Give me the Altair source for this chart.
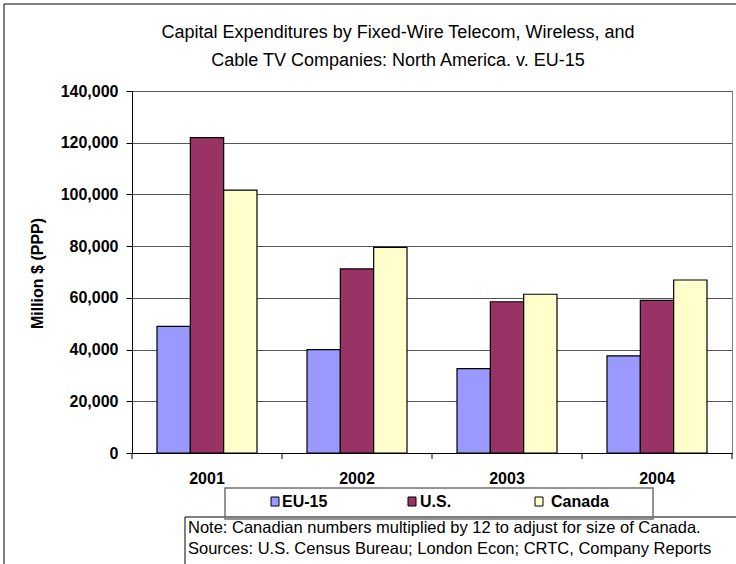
import altair as alt
import pandas as pd

# ---- data ----
years = ["2001", "2002", "2003", "2004"]
series = ["EU-15", "U.S.", "Canada"]
eu15 = [49000, 40000, 32600, 37600]
us = [122000, 71200, 58500, 59000]
canada = [101700, 79500, 61400, 66900]
colors = ["#9999FF", "#993366", "#FFFFCC"]
y_ticks = [0, 20000, 40000, 60000, 80000, 100000, 120000, 140000]
title_lines = ["Capital Expenditures by Fixed-Wire Telecom, Wireless, and",
               "Cable TV Companies: North America. v. EU-15"]
note_lines = ["Note: Canadian numbers multiplied by 12 to adjust for size of Canada.",
              "Sources: U.S. Census Bureau; London Econ; CRTC, Company Reports"]
y_title = "Million $ (PPP)"

rows = []
for s, vals in zip(series, [eu15, us, canada]):
    for yr, v in zip(years, vals):
        rows.append({"year": yr, "series": s, "value": v})
df = pd.DataFrame(rows)

# ---- layout ----
W, H = 600, 362
PAD_L, PAD_T = 132, 91
FONT = "Liberation Sans"
one = alt.Data(values=[{}])

x_axis = alt.Axis(title=None, labelAngle=0, ticks=False, tickSize=0, labelPadding=25,
                  labelBaseline="middle", labelFont=FONT, labelFontSize=16,
                  labelFontWeight="bold", labelColor="black", domainColor="black",
                  domainWidth=1, grid=False)
x_scale = alt.Scale(paddingInner=0, paddingOuter=0)

bars = alt.Chart(df).mark_bar(stroke="black", strokeWidth=1.2).encode(
    x=alt.X("year:N", sort=years, scale=x_scale, axis=x_axis),
    xOffset=alt.XOffset("series:N", sort=series,
                        scale=alt.Scale(paddingInner=0, paddingOuter=0.75)),
    y=alt.Y("value:Q", scale=alt.Scale(domain=[0, 140000], nice=False),
            axis=alt.Axis(values=y_ticks, format=",d", title=y_title,
                          titleFont=FONT, titleFontSize=16, titleFontWeight="bold",
                          titleColor="black", titleX=-95, titleY=182,
                          titleBaseline="middle", titleAngle=270,
                          labelFont=FONT, labelFontSize=16, labelFontWeight="bold",
                          labelColor="black", labelPadding=8, tickSize=6,
                          tickColor="black", domainColor="black",
                          gridColor="#555555", gridWidth=1)),
    color=alt.Color("series:N", sort=series,
                    scale=alt.Scale(domain=series, range=colors), legend=None),
)

ticks = alt.Chart(pd.DataFrame({"year": years})).mark_rule(color="black").encode(
    x=alt.X("year:N", sort=years, scale=x_scale, axis=x_axis, bandPosition=0),
    y=alt.value(H), y2=alt.value(H + 6),
)
end_tick = alt.Chart(one).mark_rule(color="black").encode(
    x=alt.value(W), y=alt.value(H), y2=alt.value(H + 6))

outer = alt.Chart(one).mark_rect(fill="white", fillOpacity=0, stroke="black",
                                 strokeWidth=1).encode(
    x=alt.value(4 - PAD_L), x2=alt.value(745 - PAD_L),
    y=alt.value(4 - PAD_T), y2=alt.value(575 - PAD_T))

note_box = alt.Chart(one).mark_rect(fill="white", stroke="black", strokeWidth=1).encode(
    x=alt.value(185 - PAD_L), x2=alt.value(745 - PAD_L),
    y=alt.value(517 - PAD_T), y2=alt.value(575 - PAD_T))

legend_box = alt.Chart(one).mark_rect(fill="white", fillOpacity=0, stroke="#707070",
                                      strokeWidth=1.5).encode(
    x=alt.value(225 - PAD_L), x2=alt.value(653 - PAD_L),
    y=alt.value(488 - PAD_T), y2=alt.value(519 - PAD_T))

layers = [outer, note_box, bars, ticks, end_tick, legend_box]

# legend entries
swatch_left = [271, 408, 535]
text_left = [282, 420, 551]
for s, c, sx, tx in zip(series, colors, swatch_left, text_left):
    layers.append(alt.Chart(one).mark_rect(fill=c, stroke="black", strokeWidth=1).encode(
        x=alt.value(sx - PAD_L), x2=alt.value(sx + 8 - PAD_L),
        y=alt.value(497 - PAD_T), y2=alt.value(506 - PAD_T)))
    layers.append(alt.Chart(one).mark_text(align="left", baseline="middle", font=FONT,
                                           fontSize=16, fontWeight="bold", color="black").encode(
        x=alt.value(tx - PAD_L), y=alt.value(502 - PAD_T), text=alt.value(s)))

# title
for line, ty in zip(title_lines, [33, 61]):
    layers.append(alt.Chart(one).mark_text(align="center", baseline="middle", font=FONT,
                                           fontSize=18, color="black").encode(
        x=alt.value(398 - PAD_L), y=alt.value(ty - PAD_T), text=alt.value(line)))

# note
for line, ny in zip(note_lines, [528, 549]):
    layers.append(alt.Chart(one).mark_text(align="left", baseline="middle", font=FONT,
                                           fontSize=16.5, color="black").encode(
        x=alt.value(188 - PAD_L), y=alt.value(ny - PAD_T), text=alt.value(line)))

chart = alt.layer(*layers).properties(
    width=W, height=H,
    autosize=alt.AutoSizeParams(type="none"),
    padding={"left": PAD_L, "top": PAD_T, "right": 736 - PAD_L - W, "bottom": 564 - PAD_T - H},
    background="white",
).configure_view(stroke="#808080", strokeWidth=1)

chart.save("out.html", embed_options={"renderer": "svg", "actions": False})
